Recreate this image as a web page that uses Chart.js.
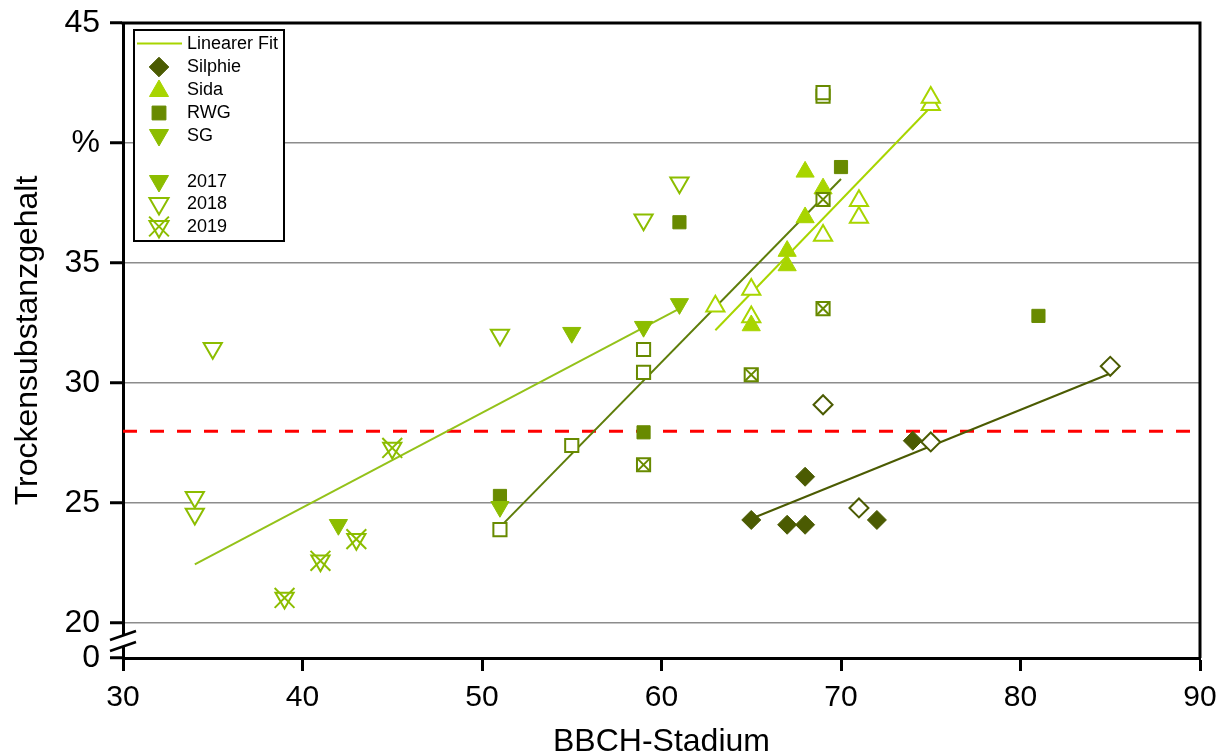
<!DOCTYPE html>
<html>
<head>
<meta charset="utf-8">
<script src="https://cdn.jsdelivr.net/npm/chart.js@4.4.1/dist/chart.umd.min.js"></script>
<style>
  html, body { margin: 0; padding: 0; background: #fff; }
  #wrap { width: 1228px; height: 755px; }
</style>
</head>
<body>
<div id="wrap"><canvas id="myChart" width="1228" height="755"></canvas></div>
<script>
// Werte
const sg2017X = [42, 51, 55, 59, 61];
const sg2017Y = [24.1, 24.85, 32.1, 32.35, 33.3];
const sg2018X = [34, 34, 35, 51, 59, 61];
const sg2018Y = [24.55, 25.25, 31.45, 32.0, 36.8, 38.35];
const sg2019X = [39, 41, 43, 45];
const sg2019Y = [21.05, 22.6, 23.5, 27.3];

const rwg2017X = [51, 59, 61, 70, 81];
const rwg2017Y = [25.3, 27.95, 36.7, 39.0, 32.8];
const rwg2018X = [51, 55, 59, 59, 69, 69];
const rwg2018Y = [23.9, 27.4, 30.45, 31.4, 41.95, 42.1];
const rwg2019X = [59, 65, 69, 69];
const rwg2019Y = [26.6, 30.35, 33.1, 37.65];

const sida2017X = [65, 67, 67, 68, 68, 69];
const sida2017Y = [32.4, 34.9, 35.5, 36.9, 38.8, 38.1];
const sida2018X = [63, 65, 65, 69, 71, 71, 75, 75];
const sida2018Y = [33.2, 32.75, 33.9, 36.15, 36.9, 37.6, 41.6, 41.9];

const silphie2017X = [65, 67, 68, 68, 72, 74];
const silphie2017Y = [24.3, 24.1, 24.1, 26.1, 24.3, 27.6];
const silphie2018X = [69, 71, 75, 85];
const silphie2018Y = [29.1, 24.8, 27.55, 30.7];

// Lineare Fits (Endpunkte)
const fitSgX = [34, 61];
const fitSgY = [22.45, 33.1];
const fitRwgX = [51, 70];
const fitRwgY = [24.0, 38.5];
const fitSidaX = [63, 75];
const fitSidaY = [32.2, 41.5];
const fitSilphieX = [65, 85];
const fitSilphieY = [24.35, 30.4];

// Grenzwert 28 %
const limitX = [30, 90];
const limitY = [28, 28];

// Achsen
const yTickValues = [18.55, 20, 25, 30, 35, 40, 45];
const yTickLabels = ['0', '20', '25', '30', '35', '%', '45'];

const cSilphie = '#4b5b02';
const cSida = '#a8d500';
const cRwg = '#688a00';
const cSg = '#8cbd00';
const fontFam = "'Liberation Sans', Arial, sans-serif";

const pts = (xs, ys) => xs.map((x, i) => ({ x: x, y: ys[i] }));

function markers(label, xs, ys, style, color, filled, radius, rotation) {
    return {
        label: label,
        data: pts(xs, ys),
        pointStyle: style,
        pointRadius: radius,
        pointRotation: rotation || 0,
        pointBackgroundColor: filled ? color : '#ffffff',
        pointBorderColor: color,
        pointBorderWidth: filled ? 1 : 2,
        showLine: false,
        order: 2
    };
}

function crosses(label, xs, ys, color, radius) {
    return {
        label: label,
        data: pts(xs, ys),
        pointStyle: 'crossRot',
        pointRadius: radius,
        pointBorderColor: color,
        pointBorderWidth: 2,
        showLine: false,
        order: 1
    };
}

function fitLine(label, xs, ys, color) {
    return {
        label: label,
        data: pts(xs, ys),
        showLine: true,
        pointRadius: 0,
        borderColor: color,
        borderWidth: 2,
        fill: false,
        order: 5
    };
}

// Legende wie im Original (mit Leerzeile)
function legendShape(ctx, shape, x, y, r, color, filled) {
    ctx.save();
    ctx.beginPath();
    if (shape === 'diamond') {
        ctx.moveTo(x - r, y); ctx.lineTo(x, y - r); ctx.lineTo(x + r, y); ctx.lineTo(x, y + r);
    } else if (shape === 'up') {
        ctx.moveTo(x, y - r); ctx.lineTo(x + 0.866 * r, y + 0.5 * r); ctx.lineTo(x - 0.866 * r, y + 0.5 * r);
    } else if (shape === 'down') {
        ctx.moveTo(x, y + r); ctx.lineTo(x - 0.866 * r, y - 0.5 * r); ctx.lineTo(x + 0.866 * r, y - 0.5 * r);
    } else if (shape === 'square') {
        const s = r * Math.SQRT1_2;
        ctx.rect(x - s, y - s, 2 * s, 2 * s);
    }
    ctx.closePath();
    ctx.fillStyle = filled ? color : '#ffffff';
    ctx.fill();
    ctx.strokeStyle = color;
    ctx.lineWidth = filled ? 1 : 2;
    ctx.stroke();
    ctx.restore();
}

function legendCross(ctx, x, y, r, color) {
    const d = r * Math.SQRT1_2;
    ctx.save();
    ctx.beginPath();
    ctx.moveTo(x - d, y - d); ctx.lineTo(x + d, y + d);
    ctx.moveTo(x + d, y - d); ctx.lineTo(x - d, y + d);
    ctx.strokeStyle = color;
    ctx.lineWidth = 2;
    ctx.stroke();
    ctx.restore();
}

const legendPlugin = {
    id: 'customLegend',
    afterDatasetsDraw(chart) {
        const ctx = chart.ctx;
        ctx.save();
        ctx.fillStyle = '#ffffff';
        ctx.fillRect(134, 30, 150, 211);
        ctx.strokeStyle = '#000000';
        ctx.lineWidth = 2;
        ctx.strokeRect(134, 30, 150, 211);

        const sx = 159, tx = 187;
        ctx.beginPath();
        ctx.moveTo(137, 43.5); ctx.lineTo(182, 43.5);
        ctx.strokeStyle = cSida; ctx.lineWidth = 2; ctx.stroke();

        legendShape(ctx, 'diamond', sx, 67, 9.8, cSilphie, true);
        legendShape(ctx, 'up', sx, 91, 11, cSida, true);
        legendShape(ctx, 'square', sx, 113, 9.8, cRwg, true);
        legendShape(ctx, 'down', sx, 135, 11, cSg, true);
        legendShape(ctx, 'down', sx, 181, 11, cSg, true);
        legendShape(ctx, 'down', sx, 203.5, 11, cSg, false);
        legendShape(ctx, 'down', sx, 226.5, 11, cSg, false);
        legendCross(ctx, sx, 226.5, 14, cSg);

        ctx.fillStyle = '#000000';
        ctx.font = '18px ' + fontFam;
        ctx.textBaseline = 'middle';
        ctx.textAlign = 'left';
        const rows = [['Linearer Fit', 44], ['Silphie', 67.5], ['Sida', 90], ['RWG', 113], ['SG', 136],
                      ['2017', 182], ['2018', 204.5], ['2019', 227.5]];
        rows.forEach(r => ctx.fillText(r[0], tx, r[1]));
        ctx.restore();
    }
};

// Rahmen oben/rechts und Achsenbruch
const framePlugin = {
    id: 'frame',
    afterDraw(chart) {
        const ctx = chart.ctx;
        const a = chart.chartArea;
        ctx.save();
        ctx.strokeStyle = '#000000';
        ctx.lineWidth = 3;
        ctx.beginPath();
        ctx.moveTo(a.left - 1.5, a.top);
        ctx.lineTo(a.right, a.top);
        ctx.lineTo(a.right, a.bottom);
        ctx.stroke();

        // Achsenbruch zwischen 20 und 0
        const x0 = a.left;
        ctx.fillStyle = '#ffffff';
        ctx.beginPath();
        ctx.moveTo(x0 - 13, 640); ctx.lineTo(x0 + 13, 631);
        ctx.lineTo(x0 + 13, 642); ctx.lineTo(x0 - 13, 651);
        ctx.closePath();
        ctx.fill();
        ctx.lineWidth = 2.5;
        ctx.beginPath();
        ctx.moveTo(x0 - 13, 640); ctx.lineTo(x0 + 13, 631);
        ctx.moveTo(x0 - 13, 651); ctx.lineTo(x0 + 13, 642);
        ctx.stroke();
        ctx.restore();
    }
};

const ctx = document.getElementById('myChart').getContext('2d');

const myChart = new Chart(ctx, {
    type: 'scatter',
    data: {
        datasets: [
            fitLine('Grenzwert', limitX, limitY, '#ff0000'),
            fitLine('Fit SG', fitSgX, fitSgY, '#94c21a'),
            fitLine('Fit RWG', fitRwgX, fitRwgY, '#5e7d0a'),
            fitLine('Fit Sida', fitSidaX, fitSidaY, cSida),
            fitLine('Fit Silphie', fitSilphieX, fitSilphieY, cSilphie),
            markers('SG 2017', sg2017X, sg2017Y, 'triangle', cSg, true, 10.5, 180),
            markers('SG 2018', sg2018X, sg2018Y, 'triangle', cSg, false, 10.5, 180),
            markers('SG 2019', sg2019X, sg2019Y, 'triangle', cSg, false, 10.5, 180),
            crosses('SG 2019 x', sg2019X, sg2019Y, cSg, 14),
            markers('RWG 2017', rwg2017X, rwg2017Y, 'rect', cRwg, true, 9.3),
            markers('RWG 2018', rwg2018X, rwg2018Y, 'rect', cRwg, false, 9.3),
            markers('RWG 2019', rwg2019X, rwg2019Y, 'rect', cRwg, false, 9.3),
            crosses('RWG 2019 x', rwg2019X, rwg2019Y, cRwg, 9),
            markers('Sida 2017', sida2017X, sida2017Y, 'triangle', cSida, true, 10.5),
            markers('Sida 2018', sida2018X, sida2018Y, 'triangle', cSida, false, 10.5),
            markers('Silphie 2017', silphie2017X, silphie2017Y, 'rectRot', cSilphie, true, 9.5),
            markers('Silphie 2018', silphie2018X, silphie2018Y, 'rectRot', cSilphie, false, 9.5)
        ]
    },
    options: {
        responsive: false,
        animation: false,
        devicePixelRatio: 1,
        layout: { padding: { top: 23, right: 28, left: 0, bottom: 0 } },
        plugins: {
            legend: { display: false },
            tooltip: { enabled: false }
        },
        scales: {
            x: {
                type: 'linear',
                min: 30,
                max: 90,
                ticks: {
                    stepSize: 10,
                    color: '#000000',
                    padding: 9,
                    font: { family: fontFam, size: 30 }
                },
                grid: {
                    drawOnChartArea: false,
                    drawTicks: true,
                    tickLength: 13,
                    tickWidth: 3,
                    tickColor: '#000000'
                },
                border: { display: true, color: '#000000', width: 3 },
                title: {
                    display: true,
                    text: 'BBCH-Stadium',
                    color: '#000000',
                    font: { family: fontFam, size: 32, lineHeight: 1 },
                    padding: { top: 0, bottom: -3 }
                },
                afterFit: (scale) => {
                    scale.height = 97;
                    scale.paddingLeft = 0;
                    scale.paddingRight = 0;
                }
            },
            y: {
                type: 'linear',
                min: 18.55,
                max: 45,
                afterBuildTicks: (axis) => {
                    axis.ticks = yTickValues.map(v => ({ value: v }));
                },
                ticks: {
                    color: '#000000',
                    padding: 10,
                    font: { family: fontFam, size: 32 },
                    callback: (value) => {
                        const i = yTickValues.indexOf(value);
                        return i >= 0 ? yTickLabels[i] : '';
                    }
                },
                grid: {
                    color: (c) => (c.tick && (c.tick.value === 45 || c.tick.value === 18.55)) ? 'rgba(0,0,0,0)' : '#8c8c8c',
                    lineWidth: 1.5,
                    drawTicks: true,
                    tickLength: 13,
                    tickWidth: 3,
                    tickColor: '#000000'
                },
                border: { display: true, color: '#000000', width: 3 },
                title: {
                    display: true,
                    text: 'Trockensubstanzgehalt',
                    color: '#000000',
                    font: { family: fontFam, size: 32 },
                    padding: { top: 9, bottom: 0 }
                },
                afterFit: (scale) => {
                    scale.width = 123;
                    scale.paddingTop = 0;
                    scale.paddingBottom = 0;
                }
            }
        }
    },
    plugins: [legendPlugin, framePlugin]
});

// Grenzwert-Linie gestrichelt
myChart.data.datasets[0].borderDash = [14, 13];
myChart.data.datasets[0].borderWidth = 3;
myChart.data.datasets[0].order = 6;
myChart.update();
</script>
</body>
</html>
